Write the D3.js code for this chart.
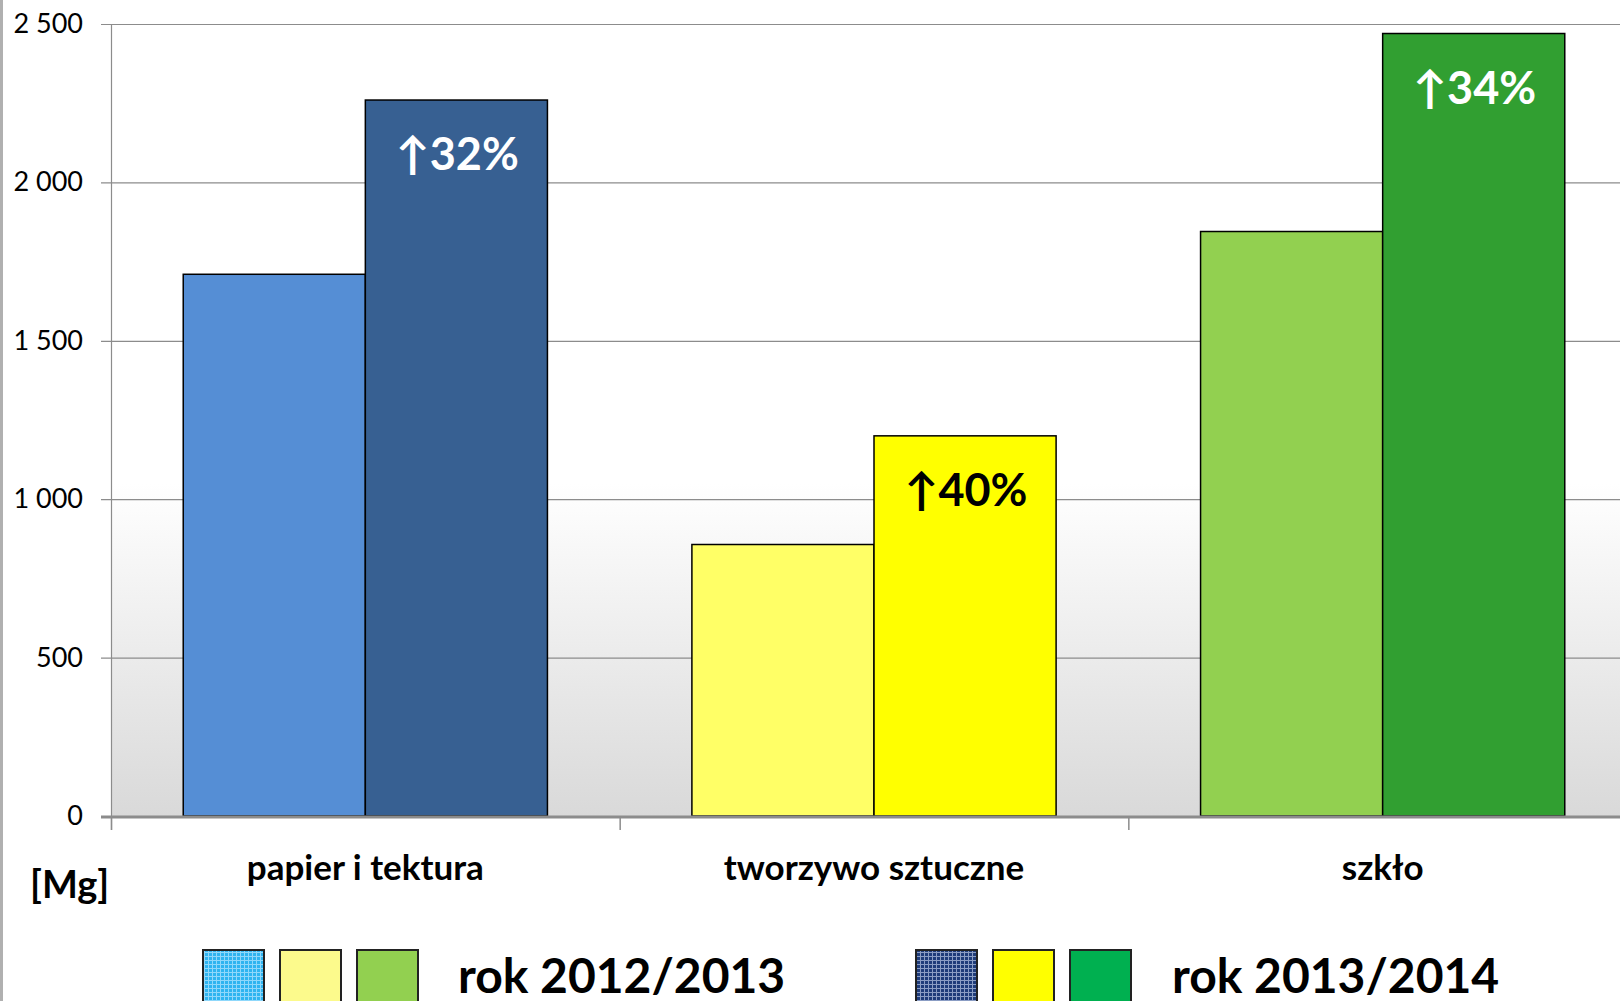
<!DOCTYPE html>
<html lang="pl">
<head>
<meta charset="UTF-8">
<title>Odpady segregowane</title>
<style>
  html, body { margin: 0; padding: 0; background: #fff; overflow: hidden; }
  svg { display: block; }
</style>
</head>
<body>
<svg id="chart" width="1620" height="1001"></svg>
<script src="https://d3js.org/d3.v7.min.js"></script>
<script>
// dane
const categories = ["papier i tektura", "tworzywo sztuczne", "szkło"];
const seasons = ["rok 2012/2013", "rok 2013/2014"];
const values2012 = [1710, 857, 1845];
const values2013 = [2260, 1200, 2470];
const growthLabels = ["\u219132%", "\u219140%", "\u219134%"];
const yTicks = [0, 500, 1000, 1500, 2000, 2500];
const unitLabel = "[Mg]";

// kolory słupków (kategoria x rok)
const barColors = [
  ["#558ed5", "#376092"],
  ["#ffff66", "#ffff00"],
  ["#92d050", "#319f31"]
];
const labelColors = ["#ffffff", "#000000", "#ffffff"];

const svg = d3.select("#chart");
const mLeft = 111, mTop = 24, mBottom = 816, mRight = 1637;

const y = d3.scaleLinear().domain([0, 2500]).range([mBottom, mTop]);
const x0 = d3.scaleBand().domain(categories).range([mLeft, mRight]);
const gap = x0.bandwidth() * 0.142;
const x1 = d3.scaleBand().domain(seasons).range([gap, x0.bandwidth() - gap]);

const defs = svg.append("defs");
const grad = defs.append("linearGradient")
  .attr("id", "bg").attr("x1", 0).attr("y1", 0).attr("x2", 0).attr("y2", 1);
grad.append("stop").attr("offset", "0%").attr("stop-color", "#ffffff");
grad.append("stop").attr("offset", "58%").attr("stop-color", "#ffffff");
grad.append("stop").attr("offset", "100%").attr("stop-color", "#d9d9d9");

// wzory do legendy
function makePattern(id, base, line) {
  const p = defs.append("pattern")
    .attr("id", id).attr("width", 4).attr("height", 4)
    .attr("patternUnits", "userSpaceOnUse");
  p.append("rect").attr("width", 4).attr("height", 4).attr("fill", base);
  p.append("rect").attr("x", 0).attr("y", 0).attr("width", 4).attr("height", 1).attr("fill", line);
  p.append("rect").attr("x", 0).attr("y", 0).attr("width", 1).attr("height", 4).attr("fill", line);
}
makePattern("pBlue", "#2fb4f0", "#8fd8fb");
makePattern("pNavy", "#1f3c7a", "#8b9dc4");

// tło obszaru wykresu
svg.append("rect")
  .attr("x", mLeft).attr("y", mTop)
  .attr("width", 1620 - mLeft).attr("height", mBottom - mTop)
  .attr("fill", "url(#bg)");

// linie siatki
svg.append("g")
  .selectAll("line")
  .data(yTicks.filter(d => d > 0))
  .join("line")
  .attr("x1", mLeft - 10).attr("x2", 1620)
  .attr("y1", d => y(d) + 0.5).attr("y2", d => y(d) + 0.5)
  .attr("stroke", "#8c8c8c").attr("stroke-width", 1.2);

// oś Y
svg.append("line")
  .attr("x1", mLeft + 0.5).attr("x2", mLeft + 0.5)
  .attr("y1", mTop).attr("y2", mBottom + 14)
  .attr("stroke", "#8c8c8c").attr("stroke-width", 1.2);

svg.append("g")
  .selectAll("text")
  .data(yTicks)
  .join("text")
  .attr("x", 83).attr("y", d => y(d) + 9)
  .attr("text-anchor", "end")
  .attr("font-family", "Lato, sans-serif")
  .attr("font-size", 27)
  .attr("fill", "#000")
  .text(d => d3.format(",")(d).replace(/,/g, " "));

// słupki
const groups = svg.append("g")
  .selectAll("g")
  .data(categories)
  .join("g")
  .attr("transform", d => `translate(${x0(d)},0)`);

groups.each(function(cat, i) {
  const g = d3.select(this);
  const vals = [values2012[i], values2013[i]];
  g.selectAll("rect")
    .data(seasons)
    .join("rect")
    .attr("x", s => x1(s))
    .attr("y", (s, j) => y(vals[j]))
    .attr("width", x1.bandwidth())
    .attr("height", (s, j) => mBottom - y(vals[j]))
    .attr("fill", (s, j) => barColors[i][j])
    .attr("stroke", "#000").attr("stroke-width", 1.5);

  g.append("text")
    .attr("x", x1(seasons[1]) + x1.bandwidth() / 2 + 1)
    .attr("y", y(vals[1]) + 70)
    .attr("text-anchor", "middle")
    .attr("font-family", "Lato, sans-serif")
    .attr("font-weight", "bold")
    .attr("font-size", 45)
    .attr("fill", labelColors[i])
    .text(growthLabels[i]);
});

// oś X
svg.append("line")
  .attr("x1", mLeft - 10).attr("x2", 1620)
  .attr("y1", mBottom + 1).attr("y2", mBottom + 1)
  .attr("stroke", "#8c8c8c").attr("stroke-width", 3);

svg.append("g")
  .selectAll("line")
  .data(categories)
  .join("line")
  .attr("x1", d => x0(d) + 0.5).attr("x2", d => x0(d) + 0.5)
  .attr("y1", mBottom).attr("y2", mBottom + 14)
  .attr("stroke", "#8c8c8c").attr("stroke-width", 1.5);

svg.append("g")
  .selectAll("text")
  .data(categories)
  .join("text")
  .attr("x", d => x0(d) + x0.bandwidth() / 2)
  .attr("y", 880)
  .attr("text-anchor", "middle")
  .attr("font-family", "Lato, sans-serif")
  .attr("font-weight", "bold")
  .attr("font-size", 35)
  .attr("fill", "#000")
  .text(d => d);

svg.append("text")
  .attr("x", 30).attr("y", 898)
  .attr("font-family", "Lato, sans-serif")
  .attr("font-weight", "bold")
  .attr("font-size", 38)
  .text(unitLabel);

// legenda
const legendFills = [
  ["url(#pBlue)", "#fcfa8c", "#92d050"],
  ["url(#pNavy)", "#ffff00", "#00b050"]
];
const legendX = [203, 916];
const legendTextX = [458, 1172];
seasons.forEach((s, k) => {
  const lg = svg.append("g");
  lg.selectAll("rect")
    .data(legendFills[k])
    .join("rect")
    .attr("x", (d, j) => legendX[k] + j * 77)
    .attr("y", 950)
    .attr("width", 61).attr("height", 62)
    .attr("fill", d => d)
    .attr("stroke", "#222").attr("stroke-width", 2);
  lg.append("text")
    .attr("x", legendTextX[k]).attr("y", 993)
    .attr("font-family", "Lato, sans-serif")
    .attr("font-weight", "bold")
    .attr("font-size", 48)
    .text(s);
});

// lewa krawędź
svg.append("line")
  .attr("x1", 1.5).attr("x2", 1.5).attr("y1", 0).attr("y2", 1001)
  .attr("stroke", "#b0b0b0").attr("stroke-width", 3);
</script>
</body>
</html>
